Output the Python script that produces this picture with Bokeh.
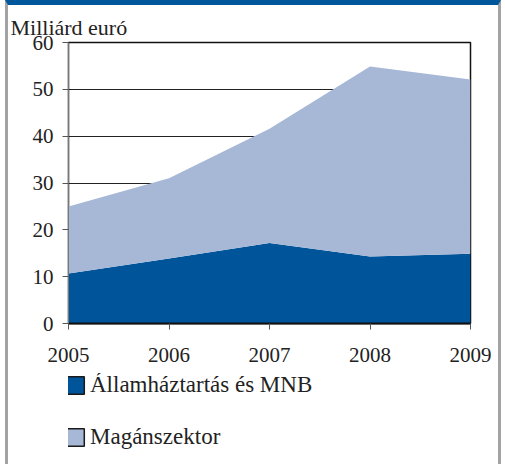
from bokeh.plotting import figure
from bokeh.layouts import column
from bokeh.models import Legend, LegendItem, Title, FixedTicker, ColumnDataSource
from bokeh.embed import file_html
from bokeh.resources import INLINE

years = [2005, 2006, 2007, 2008, 2009]
allam = [10.7, 13.9, 17.2, 14.3, 14.9]
magan = [14.3, 17.1, 24.4, 40.6, 37.2]
y_ticks = [0, 10, 20, 30, 40, 50, 60]
labels = ["Államháztartás és MNB", "Magánszektor"]
unit_label = "Milliárd euró"

DARK = "#00549a"
LIGHT = "#a6b8d6"
FONT = "Liberation Serif"

src = ColumnDataSource(dict(year=years, allam=allam, magan=magan))

p = figure(width=490, height=368, output_backend="svg", toolbar_location=None,
           x_range=(2005, 2009), y_range=(0, 60),
           min_border_left=60, min_border_right=28, min_border_top=37, min_border_bottom=50)
p.title = Title(text=unit_label, align="left", offset=-58, text_font=FONT,
                text_font_size="22px", text_font_style="normal", text_color="#222222",
                standoff=6)

p.varea_stack(stackers=["allam", "magan"], x="year", color=[DARK, LIGHT], source=src)

for ax in p.axis:
    ax.major_label_text_font = FONT
    ax.major_label_text_font_size = "21px"
    ax.major_label_text_color = "#222222"
    ax.minor_tick_line_color = None
    ax.major_tick_in = 0
    ax.major_tick_out = 6
    ax.major_tick_line_color = "#555555"
for ax in p.xaxis:
    ax.ticker = FixedTicker(ticks=years)
    ax.axis_line_color = "#111111"
    ax.axis_line_width = 2
    ax.major_label_standoff = 18
for ax in p.yaxis:
    ax.ticker = FixedTicker(ticks=y_ticks)
    ax.axis_line_color = "#777777"
    ax.major_label_standoff = 9

p.xgrid.grid_line_color = None
p.ygrid.grid_line_color = "#222222"
p.ygrid.grid_line_width = 1.2
p.outline_line_color = "#111111"
p.outline_line_width = 1.5
p.background_fill_color = "white"
p.border_fill_color = "white"

# legend panel below the chart
p2 = figure(width=490, height=91, output_backend="svg", toolbar_location=None,
            x_axis_type=None, y_axis_type=None,
            min_border_left=0, min_border_right=0, min_border_top=0, min_border_bottom=0)
p2.grid.grid_line_color = None
p2.outline_line_color = None
p2.background_fill_color = "white"
p2.border_fill_color = "white"
r1 = p2.vbar(x="year", top="allam", width=0.5, source=src, fill_color=DARK,
             line_color="#1a1a1a", line_width=1.5, visible=False)
r2 = p2.vbar(x="year", top="magan", width=0.5, source=src, fill_color=LIGHT,
             line_color="#1a1a1a", line_width=1.5, visible=False)

legend = Legend(items=[LegendItem(label=labels[0], renderers=[r1]),
                       LegendItem(label=labels[1], renderers=[r2])],
                location=(-4, 14), orientation="vertical",
                glyph_width=22, glyph_height=22, label_height=22, spacing=26,
                label_standoff=4, padding=0, margin=0,
                border_line_alpha=0, background_fill_alpha=0,
                label_text_font=FONT, label_text_font_size="23px", label_text_color="#222222")
p2.add_layout(legend, "center")

layout = column(p, p2, spacing=0)
layout.styles = {"margin-left": "5px",
                 "border-left": "3px solid #a3a3a3", "border-right": "3px solid #a3a3a3",
                 "border-top": "5px solid #00579b"}

open("out.html", "w").write(file_html(layout, INLINE))
